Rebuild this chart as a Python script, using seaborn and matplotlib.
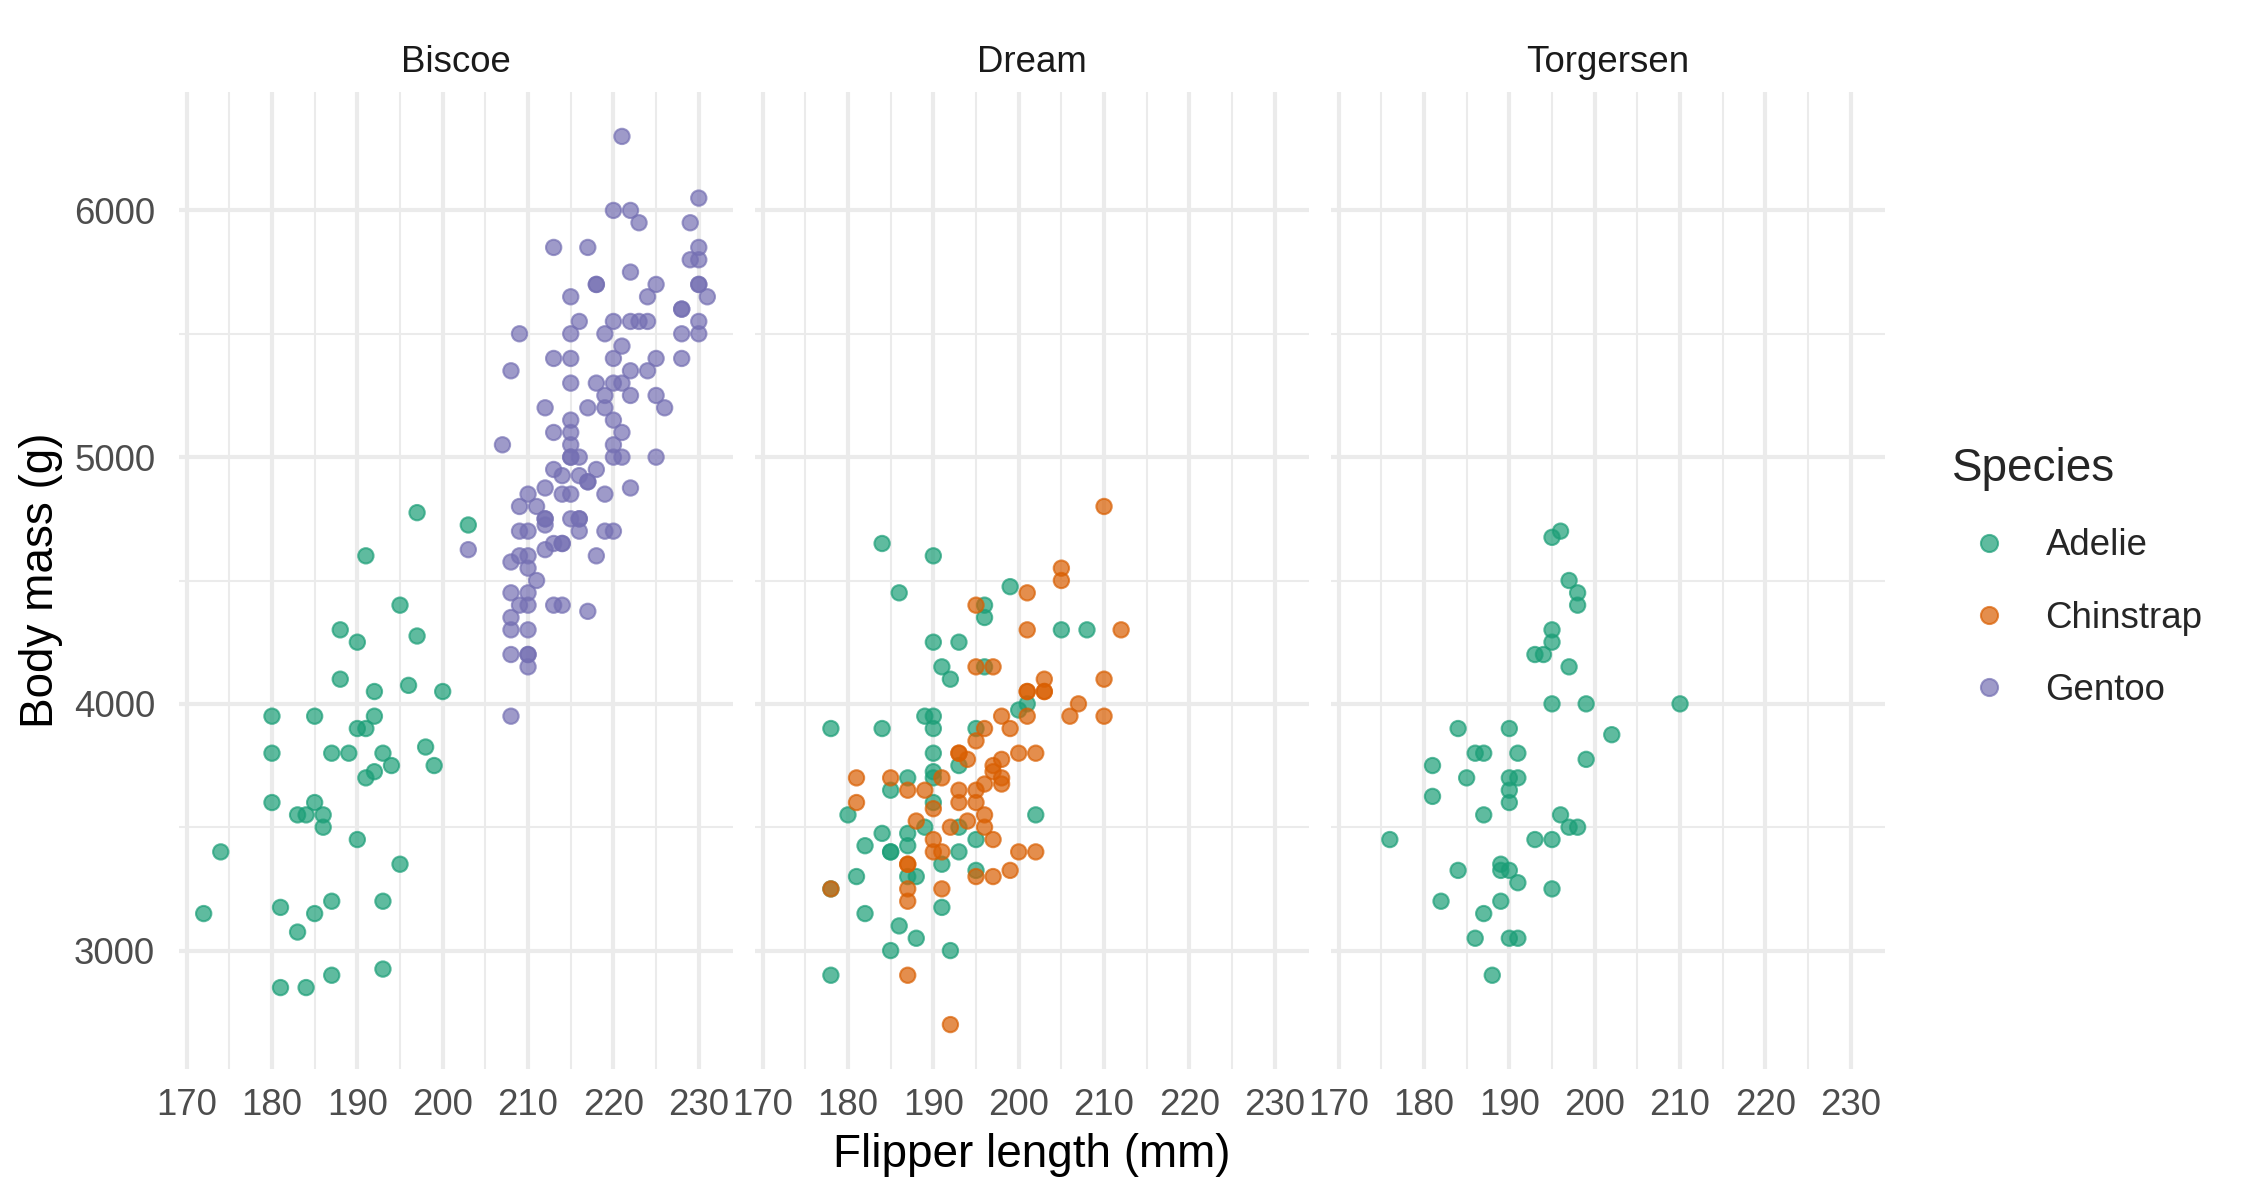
import numpy as np
import pandas as pd
import matplotlib
matplotlib.use("Agg")
import matplotlib.pyplot as plt
from matplotlib.ticker import MultipleLocator, FixedLocator
from matplotlib.lines import Line2D
import seaborn as sns

# ---------------- data ----------------
islands = ["Biscoe", "Dream", "Torgersen"]
species_order = ["Adelie", "Chinstrap", "Gentoo"]
species_colors = ["#1B9E77", "#D95F02", "#7570B3"]
x_ticks = [170, 180, 190, 200, 210, 220, 230]
y_ticks = [3000, 4000, 5000, 6000]

biscoe_adelie_flipper = [197, 203, 191, 195, 188, 197, 190, 188, 192, 196, 200, 180, 185, 192, 190,
                         191, 180, 187, 189, 193, 198, 194, 199, 192, 191, 180, 185, 183, 184, 186,
                         186, 190, 174, 195, 187, 193, 181, 172, 185, 183, 193, 187, 181, 184]
biscoe_adelie_mass = [4775, 4725, 4600, 4400, 4300, 4275, 4250, 4100, 4050, 4075, 4050, 3950, 3950, 3950, 3900,
                      3900, 3800, 3800, 3800, 3800, 3825, 3750, 3750, 3725, 3700, 3600, 3600, 3550, 3550, 3550,
                      3500, 3450, 3400, 3350, 3200, 3200, 3175, 3150, 3150, 3075, 2925, 2900, 2850, 2850]

biscoe_gentoo_flipper = [221, 230, 220, 222, 223, 229, 213, 217, 230, 229, 230, 222, 218, 218, 225,
                         230, 230, 224, 215, 231, 228, 228, 216, 220, 222, 223, 224, 230, 209, 215,
                         219, 228, 230, 221, 213, 215, 220, 225, 228, 208, 222, 224, 215, 218, 220,
                         221, 219, 222, 225, 212, 217, 219, 226, 215, 220, 213, 215, 221, 207, 215,
                         220,
                         215, 215, 216, 220, 221, 225, 213, 218, 214, 216, 217, 217, 212, 222, 210,
                         214, 215, 219, 209, 211, 212, 212, 212, 215, 216, 216, 216, 209, 210, 219,
                         220, 213, 214, 214, 212, 209, 210, 208, 218, 210, 211, 208, 210, 209, 210,
                         213, 214, 217, 208, 208, 210, 208, 210, 210, 210, 208, 203]
biscoe_gentoo_mass = [6300, 6050, 6000, 6000, 5950, 5950, 5850, 5850, 5850, 5800, 5800, 5750, 5700, 5700, 5700,
                      5700, 5700, 5650, 5650, 5650, 5600, 5600, 5550, 5550, 5550, 5550, 5550, 5550, 5500, 5500,
                      5500, 5500, 5500, 5450, 5400, 5400, 5400, 5400, 5400, 5350, 5350, 5350, 5300, 5300, 5300,
                      5300, 5250, 5250, 5250, 5200, 5200, 5200, 5200, 5150, 5150, 5100, 5100, 5100, 5050, 5050,
                      5050,
                      5000, 5000, 5000, 5000, 5000, 5000, 4950, 4950, 4925, 4925, 4900, 4900, 4875, 4875, 4850,
                      4850, 4850, 4850, 4800, 4800, 4750, 4750, 4725, 4750, 4750, 4750, 4700, 4700, 4700, 4700,
                      4700, 4650, 4650, 4650, 4625, 4600, 4600, 4575, 4600, 4550, 4500, 4450, 4450, 4400, 4400,
                      4400, 4400, 4375, 4350, 4300, 4300, 4200, 4200, 4200, 4150, 3950, 4625]

dream_adelie_flipper = [184, 190, 186, 199, 196, 196, 205, 208, 190, 193, 191, 192, 196, 200, 201,
                        178, 184, 189, 190, 190, 195, 190, 193, 190, 190, 187, 185, 180, 190, 189,
                        193, 184, 187, 182, 187, 185, 185, 193, 195, 191, 202, 181, 187, 188, 195,
                        191, 182, 186, 188, 185, 192, 178, 178]
dream_adelie_mass = [4650, 4600, 4450, 4475, 4400, 4350, 4300, 4300, 4250, 4250, 4150, 4100, 4150, 3975, 4000,
                     3900, 3900, 3950, 3950, 3900, 3900, 3800, 3750, 3725, 3700, 3700, 3650, 3550, 3600, 3500,
                     3500, 3475, 3475, 3425, 3425, 3400, 3400, 3400, 3450, 3350, 3550, 3300, 3300, 3300, 3325,
                     3175, 3150, 3100, 3050, 3000, 3000, 2900, 3250]

dream_chinstrap_flipper = [210, 205, 205, 201, 195, 201, 212, 195, 197, 203, 210, 201, 201, 203, 203,
                           207, 198, 201, 206, 210, 196, 199, 195, 200, 202, 198, 193, 193, 194, 197,
                           197, 198, 198, 196, 195, 193, 193, 195, 191, 181, 185, 187, 189, 181, 190,
                           188, 192, 194, 196, 196, 197, 190, 190, 191, 200, 202, 187, 187, 199, 195,
                           197, 187, 191, 187, 178, 187, 192]
dream_chinstrap_mass = [4800, 4550, 4500, 4450, 4400, 4300, 4300, 4150, 4150, 4100, 4100, 4050, 4050, 4050, 4050,
                        4000, 3950, 3950, 3950, 3950, 3900, 3900, 3850, 3800, 3800, 3775, 3800, 3800, 3775, 3750,
                        3725, 3700, 3675, 3675, 3650, 3650, 3600, 3600, 3700, 3700, 3700, 3650, 3650, 3600, 3575,
                        3525, 3500, 3525, 3550, 3500, 3450, 3450, 3400, 3400, 3400, 3400, 3350, 3350, 3325, 3300,
                        3300, 3250, 3250, 3200, 3250, 2900, 2700]

torgersen_adelie_flipper = [196, 195, 197, 198, 198, 195, 195, 193, 194, 197, 195, 199, 210, 184, 190,
                            202, 186, 187, 191, 199, 181, 185, 190, 191, 190, 190, 181, 187, 196, 197,
                            198, 176, 193, 195, 189, 189, 190, 184, 191, 195, 182, 189, 187, 186, 190,
                            191, 188]
torgersen_adelie_mass = [4700, 4675, 4500, 4450, 4400, 4300, 4250, 4200, 4200, 4150, 4000, 4000, 4000, 3900, 3900,
                         3875, 3800, 3800, 3800, 3775, 3750, 3700, 3700, 3700, 3650, 3600, 3625, 3550, 3550, 3500,
                         3500, 3450, 3450, 3450, 3350, 3325, 3325, 3325, 3275, 3250, 3200, 3200, 3150, 3050, 3050,
                         3050, 2900]

# ---------------- build the table ----------------
parts = [
    ("Biscoe", "Adelie", biscoe_adelie_flipper, biscoe_adelie_mass),
    ("Dream", "Adelie", dream_adelie_flipper, dream_adelie_mass),
    ("Torgersen", "Adelie", torgersen_adelie_flipper, torgersen_adelie_mass),
    ("Biscoe", "Gentoo", biscoe_gentoo_flipper, biscoe_gentoo_mass),
    ("Dream", "Chinstrap", dream_chinstrap_flipper, dream_chinstrap_mass),
]
frames = []
for isl, sp, fl, ms in parts:
    frames.append(pd.DataFrame({"island": isl, "species": sp, "flipper": fl, "mass": ms}))
df = pd.concat(frames, ignore_index=True)

# ---------------- style ----------------
sns.set_theme(style="white")
plt.rcParams["font.family"] = ["Liberation Sans", "DejaVu Sans"]

W, H = 2250, 1200
fig = plt.figure(figsize=(7.5, 4.0), dpi=300)
fig.patch.set_facecolor("white")

panel_lefts = [178.5, 754.5, 1330.5]
panel_w = 554
panel_top, panel_bot = 92, 1069

grid_col = "#EBEBEB"
palette = dict(zip(species_order, species_colors))

axes = []
for i, isl in enumerate(islands):
    ax = fig.add_axes([panel_lefts[i] / W, 1 - panel_bot / H, panel_w / W, (panel_bot - panel_top) / H])
    sub = df[df["island"] == isl]
    sns.scatterplot(data=sub, x="flipper", y="mass", hue="species", hue_order=species_order,
                    palette=palette, s=13.5, alpha=0.7, edgecolor="face", linewidth=0.5,
                    legend=False, ax=ax, zorder=3)
    ax.set_xlim(169.05, 233.95)
    ax.set_ylim(2520, 6480)
    ax.xaxis.set_major_locator(FixedLocator(x_ticks))
    ax.yaxis.set_major_locator(FixedLocator(y_ticks))
    ax.xaxis.set_minor_locator(MultipleLocator(5))
    ax.yaxis.set_minor_locator(MultipleLocator(500))
    ax.grid(True, which="major", color=grid_col, linewidth=1.0, zorder=0)
    ax.grid(True, which="minor", color=grid_col, linewidth=0.5, zorder=0)
    ax.set_axisbelow(True)
    for s in ax.spines.values():
        s.set_visible(False)
    ax.tick_params(axis="both", which="both", length=0)
    ax.tick_params(axis="x", pad=4.6, labelsize=8.8, labelcolor="#4D4D4D")
    ax.tick_params(axis="y", pad=5.6, labelsize=8.8, labelcolor="#4D4D4D", labelleft=(i == 0))
    ax.set_xlabel("")
    ax.set_ylabel("")
    ax.set_title(isl, fontsize=8.8, color="#1A1A1A", pad=4.8)
    ax.set_facecolor("white")
    axes.append(ax)

fig.text((panel_lefts[0] + panel_lefts[2] + panel_w) / 2 / W, 1 - 1167 / H, "Flipper length (mm)",
         ha="center", va="baseline", fontsize=11, color="black")
fig.text(41 / W, 1 - (panel_top + panel_bot) / 2 / H, "Body mass (g)", rotation=90,
         ha="center", va="center", fontsize=11, color="black")

handles = [Line2D([], [], linestyle="none", marker="o", markersize=4.1, markerfacecolor=c,
                  markeredgecolor=c, markeredgewidth=0.5, alpha=0.7) for c in species_colors]
leg = fig.legend(handles, species_order, title="Species", loc="upper left",
                 bbox_to_anchor=(1952 / W, 1 - 447 / H), frameon=False, fontsize=8.8,
                 title_fontsize=11, handlelength=2.0, handletextpad=0.55, labelspacing=1.02,
                 borderpad=0, borderaxespad=0, alignment="left")

fig.savefig("out.png", dpi=300, facecolor="white")
